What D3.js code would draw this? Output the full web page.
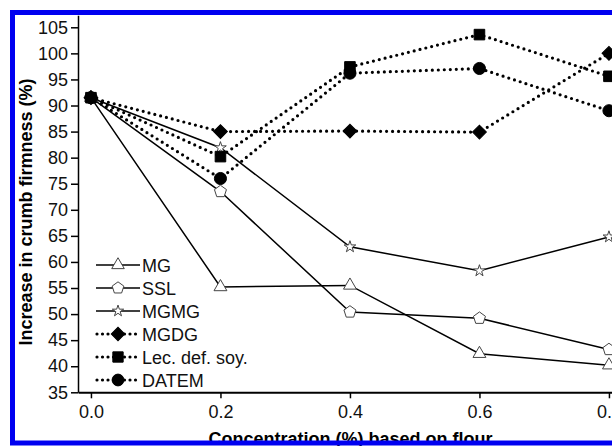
<!DOCTYPE html>
<html>
<head>
<meta charset="utf-8">
<script src="https://cdn.jsdelivr.net/npm/d3@7"></script>
<style>
body { margin: 0; background: #fff; }
svg { display: block; font-family: "Liberation Sans", Arial, sans-serif; }
</style>
</head>
<body>
<svg width="612" height="446"></svg>
<script>
// concentration (% based on flour)
var concentrations = [0.0, 0.2, 0.4, 0.6, 0.8];
var xTicks = [0.0, 0.2, 0.4, 0.6, 0.8];
var yTicks = [35, 40, 45, 50, 55, 60, 65, 70, 75, 80, 85, 90, 95, 100, 105];

// increase in crumb firmness (%)
var seriesNames = ["MG", "SSL", "MGMG", "MGDG", "Lec. def. soy.", "DATEM"];
var mgValues    = [91.5, 55.2, 55.5, 42.4, 40.2];
var sslValues   = [91.5, 73.5, 50.4, 49.2, 43.2];
var mgmgValues  = [91.5, 81.9, 62.9, 58.3, 64.8];
var mgdgValues  = [91.5, 85.0, 85.1, 84.9, 100.0];
var lecValues   = [91.5, 80.2, 97.4, 103.6, 95.6];
var datemValues = [91.5, 76.0, 96.2, 97.1, 89.0];

var svg = d3.select("svg");

var x = d3.scaleLinear().domain([-0.02, 0.9]).range([78, 78 + 0.92 * 647.5]);
var y = d3.scaleLinear().domain([35, 107.3]).range([392.3, 15.3]);

// pentagon shape (not in d3)
var symbolPentagon = {
    draw: function(ctx, size) {
        var r = Math.sqrt(size / 2.3776);
        for (var i = 0; i < 5; i++) {
            var a = -Math.PI / 2 + i * 2 * Math.PI / 5;
            if (i === 0) ctx.moveTo(r * Math.cos(a), r * Math.sin(a));
            else ctx.lineTo(r * Math.cos(a), r * Math.sin(a));
        }
        ctx.closePath();
    }
};

var styles = [
    {sym: d3.symbolTriangle, size: 72, fill: "#fff", dots: false, rot: 0},
    {sym: symbolPentagon, size: 95, fill: "#fff", dots: false, rot: 0},
    {sym: d3.symbolStar, size: 42, fill: "#fff", dots: false, rot: 0},
    {sym: d3.symbolSquare, size: 95, fill: "#000", dots: true, rot: 45},
    {sym: d3.symbolSquare, size: 112, fill: "#000", dots: true, rot: 0},
    {sym: d3.symbolCircle, size: 115, fill: "#000", dots: true, rot: 0}
];
var allValues = [mgValues, sslValues, mgmgValues, mgdgValues, lecValues, datemValues];

// axes
svg.append("g")
    .attr("transform", "translate(0,392.3)")
    .call(d3.axisBottom(x).tickValues(xTicks).tickFormat(d3.format(".1f")).tickSize(6).tickSizeOuter(0).tickPadding(7))
    .call(function(g) {
        g.select(".domain").attr("stroke-width", 2);
        g.selectAll(".tick line").attr("stroke-width", 1.5);
        g.selectAll("text").attr("font-size", 18).attr("font-family", "Liberation Sans, Arial, sans-serif").attr("fill", "#111");
    });

svg.append("g")
    .attr("transform", "translate(78,0)")
    .call(d3.axisLeft(y).tickValues(yTicks).tickSize(7).tickSizeOuter(0).tickPadding(3))
    .call(function(g) {
        g.select(".domain").attr("stroke-width", 1.5);
        g.selectAll(".tick line").attr("stroke-width", 1.5);
        g.selectAll("text").attr("font-size", 18).attr("font-family", "Liberation Sans, Arial, sans-serif").attr("fill", "#111");
    });

// axis titles
svg.append("text")
    .attr("x", 350.5)
    .attr("y", 444.5)
    .attr("text-anchor", "middle")
    .attr("font-size", 18)
    .attr("font-weight", "bold")
    .text("Concentration (%) based on flour");

svg.append("text")
    .attr("transform", "translate(31.5,212) rotate(-90)")
    .attr("text-anchor", "middle")
    .attr("font-size", 18)
    .attr("font-weight", "bold")
    .text("Increase in crumb firmness (%)");

// lines
var line = d3.line()
    .x(function(d, i) { return x(concentrations[i]); })
    .y(function(d) { return y(d); });

allValues.forEach(function(vals, k) {
    var st = styles[k];
    svg.append("path")
        .datum(vals)
        .attr("d", line)
        .attr("fill", "none")
        .attr("stroke", "#000")
        .attr("stroke-width", st.dots ? 3.2 : 1.5)
        .attr("stroke-linecap", st.dots ? "round" : "butt")
        .attr("stroke-dasharray", st.dots ? "0,6" : null);
});

allValues.forEach(function(vals, k) {
    var st = styles[k];
    svg.append("g").selectAll("path")
        .data(vals)
        .enter().append("path")
        .attr("transform", function(d, i) {
            return "translate(" + x(concentrations[i]) + "," + y(d) + ") rotate(" + st.rot + ")";
        })
        .attr("d", d3.symbol().type(st.sym).size(st.size))
        .attr("fill", st.fill)
        .attr("stroke", st.dots ? "#000" : "#444")
        .attr("stroke-width", 1);
});

// legend
var legend = svg.append("g").attr("transform", "translate(96,265)");
seriesNames.forEach(function(name, k) {
    var st = styles[k];
    var row = legend.append("g").attr("transform", "translate(0," + (k * 23) + ")");
    row.append("line")
        .attr("x1", st.dots ? 1 : 0).attr("x2", 44)
        .attr("y1", 0).attr("y2", 0)
        .attr("stroke", "#000")
        .attr("stroke-width", st.dots ? 3.2 : 1.5)
        .attr("stroke-linecap", st.dots ? "round" : "butt")
        .attr("stroke-dasharray", st.dots ? "0,5.5" : null);
    row.append("path")
        .attr("transform", "translate(22,0) rotate(" + st.rot + ")")
        .attr("d", d3.symbol().type(st.sym).size(st.size * 0.95))
        .attr("fill", st.fill)
        .attr("stroke", st.dots ? "#000" : "#444")
        .attr("stroke-width", 1);
    row.append("text")
        .attr("x", 46)
        .attr("y", 6.5)
        .attr("font-size", 18)
        .attr("fill", "#111")
        .text(name);
});

// blue frame
svg.append("rect")
    .attr("x", 12.5).attr("y", 12.5)
    .attr("width", 640).attr("height", 430.5)
    .attr("fill", "none")
    .attr("stroke", "#0000f0")
    .attr("stroke-width", 5);
</script>
</body>
</html>
